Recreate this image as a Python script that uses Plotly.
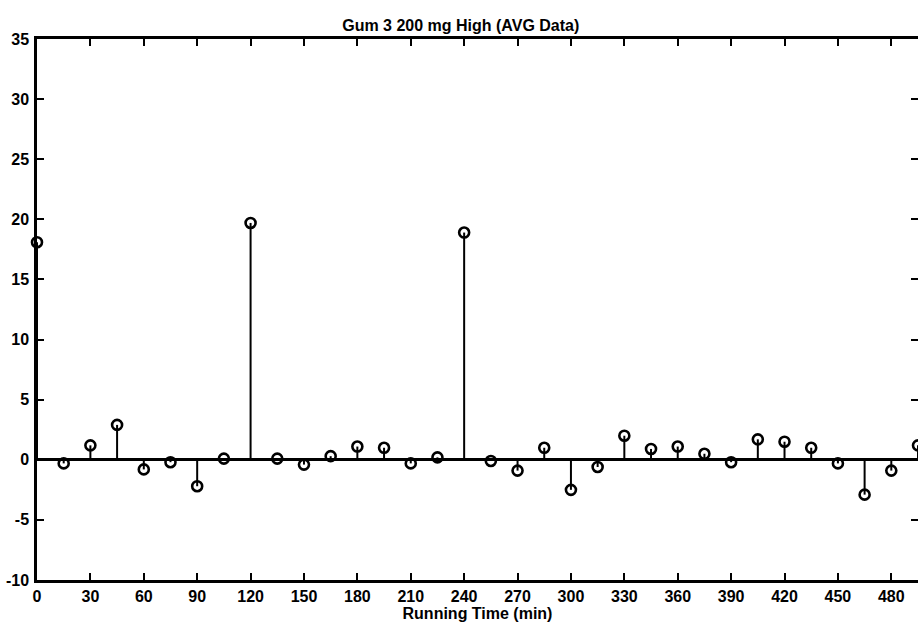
import plotly.graph_objects as go

# Sampling times (min) and averaged response values
running_time = [0, 15, 30, 45, 60, 75, 90, 105, 120, 135, 150, 165, 180, 195,
                210, 225, 240, 255, 270, 285, 300, 315, 330, 345, 360, 375,
                390, 405, 420, 435, 450, 465, 480, 495]
avg_value = [18.1, -0.3, 1.2, 2.9, -0.8, -0.2, -2.2, 0.1, 19.7, 0.1, -0.4, 0.3,
             1.1, 1.0, -0.3, 0.2, 18.9, -0.1, -0.9, 1.0, -2.5, -0.6, 2.0, 0.9,
             1.1, 0.5, -0.2, 1.7, 1.5, 1.0, -0.3, -2.9, -0.9, 1.2]

x_ticks = list(range(0, 481, 30))
y_ticks = list(range(-10, 36, 5))

FONT = "Liberation Sans Narrow, Arial Narrow, Arial, sans-serif"

# Stem lines from zero to each value
stem_x, stem_y = [], []
for t, v in zip(running_time, avg_value):
    stem_x += [t, t, None]
    stem_y += [0, v, None]

fig = go.Figure()
fig.add_trace(go.Scatter(x=stem_x, y=stem_y, mode="lines",
                         line=dict(color="black", width=2),
                         hoverinfo="skip", showlegend=False, cliponaxis=False))
fig.add_trace(go.Scatter(x=running_time, y=avg_value, mode="markers",
                         marker=dict(symbol="circle-open", size=10,
                                     color="black", line=dict(width=2.6)),
                         showlegend=False, cliponaxis=False))
# Right-hand tick marks without a frame line
fig.add_trace(go.Scatter(x=[None], y=[None], yaxis="y2", showlegend=False))

fig.update_layout(
    width=918, height=631,
    margin=dict(l=37, r=0, t=39, b=51),
    paper_bgcolor="white", plot_bgcolor="white",
    font=dict(family=FONT, size=16, color="black"),
    title=dict(text="<b>Gum 3 200 mg High (AVG Data)</b>",
               x=0.481, xanchor="center", xref="paper",
               y=1, yref="paper", yanchor="bottom", pad=dict(b=8),
               font=dict(family=FONT, size=16, color="black")),
    xaxis=dict(range=[0, 495], tickvals=x_ticks,
               ticktext=[f"<b>{t}</b>" for t in x_ticks],
               ticks="inside", ticklen=7, tickwidth=2, tickcolor="black",
               showline=True, linewidth=2.5, linecolor="black",
               mirror="ticks", showgrid=False, zeroline=False,
               title=dict(text="<b>Running Time (min)</b>", standoff=4,
                          font=dict(family=FONT, size=16))),
    yaxis=dict(range=[-10, 35], tickvals=y_ticks,
               ticktext=[f"<b>{t}</b>" for t in y_ticks],
               ticks="inside", ticklen=7, tickwidth=2, tickcolor="black",
               showline=True, linewidth=2.5, linecolor="black",
               mirror=False, showgrid=False,
               zeroline=True, zerolinecolor="black", zerolinewidth=2.5,
               ticklabelstandoff=2),
    yaxis2=dict(range=[-10, 35], tickvals=y_ticks, overlaying="y",
                side="right", showticklabels=False, showline=False,
                ticks="inside", ticklen=7, tickwidth=2, tickcolor="black",
                showgrid=False, zeroline=False),
)

fig.write_html("out.html")
